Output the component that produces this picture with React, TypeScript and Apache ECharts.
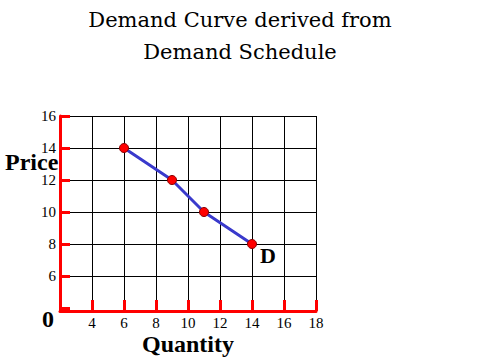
import React, { useEffect, useRef } from "react";
import * as echarts from "echarts";

const quantities = [6, 9, 11, 14];
const prices = [14, 12, 10, 8];
const curveLabel = "D";
const titleLines = ["Demand Curve derived from", "Demand Schedule"];

export default function App() {
  const ref = useRef<HTMLDivElement>(null);
  useEffect(() => {
    document.body.style.margin = "0";
    const chart = echarts.init(ref.current!, null, { renderer: "svg" });
    const data = quantities.map((q, i) => {
      const item: any = { value: [q, prices[i]] };
      if (i === quantities.length - 1) {
        item.label = {
          show: true,
          formatter: curveLabel,
          position: "right",
          distance: 3,
          offset: [0, 11],
          fontFamily: "Liberation Serif",
          fontWeight: "bold",
          fontSize: 22,
          color: "#000",
          textShadowColor: "#aaa",
          textShadowOffsetX: 2,
          textShadowOffsetY: 2,
          textShadowBlur: 0,
        };
      }
      return item;
    });
    const boldText = {
      fontFamily: "Liberation Serif",
      fontWeight: "bold",
      fontSize: 24,
      fill: "#000",
      textShadowColor: "#aaa",
      textShadowOffsetX: 2,
      textShadowOffsetY: 2,
      textShadowBlur: 0,
    };
    chart.setOption({
      animation: false,
      backgroundColor: "#fff",
      title: {
        text: titleLines.join("\n"),
        left: "center",
        top: -1,
        textStyle: {
          fontFamily: "DejaVu Serif",
          fontWeight: "normal",
          fontSize: 21,
          lineHeight: 32,
          color: "#000",
        },
      },
      grid: { left: 60, right: 164, top: 116, bottom: 52 },
      xAxis: {
        type: "value",
        min: 2,
        max: 18,
        interval: 2,
        offset: 3,
        axisLine: { show: true, lineStyle: { color: "#ff0000", width: 3 } },
        axisTick: { show: true, inside: true, length: 11, lineStyle: { color: "#ff0000", width: 3 } },
        axisLabel: {
          margin: 4,
          formatter: (v: number) => (v === 2 ? "" : String(v)),
          fontFamily: "Liberation Serif",
          fontSize: 15,
          color: "#000",
        },
        splitLine: { show: true, showMinLine: false, lineStyle: { color: "#000", width: 1 } },
      },
      yAxis: {
        type: "value",
        min: 4,
        max: 16,
        interval: 2,
        axisLine: { show: true, lineStyle: { color: "#ff0000", width: 3 } },
        axisTick: { show: true, inside: true, length: 10, lineStyle: { color: "#ff0000", width: 3 } },
        axisLabel: {
          margin: 4,
          formatter: (v: number) => (v === 4 ? "" : String(v)),
          fontFamily: "Liberation Serif",
          fontSize: 15,
          color: "#000",
        },
        splitLine: { show: true, showMinLine: false, lineStyle: { color: "#000", width: 1 } },
      },
      series: [
        {
          type: "line",
          data,
          symbol: "circle",
          symbolSize: 9,
          lineStyle: { color: "#3a3acc", width: 3 },
          itemStyle: { color: "#ff0000", borderColor: "#880000", borderWidth: 1 },
          z: 5,
        },
      ],
      graphic: [
        { type: "text", left: 5, top: 150, style: { ...boldText, text: "Price" } },
        { type: "text", left: 142, top: 332, style: { ...boldText, text: "Quantity" } },
        { type: "text", left: 42, top: 307, style: { ...boldText, text: "0" } },
      ],
    });
    return () => chart.dispose();
  }, []);
  return <div ref={ref} style={{ width: 480, height: 360 }} />;
}
